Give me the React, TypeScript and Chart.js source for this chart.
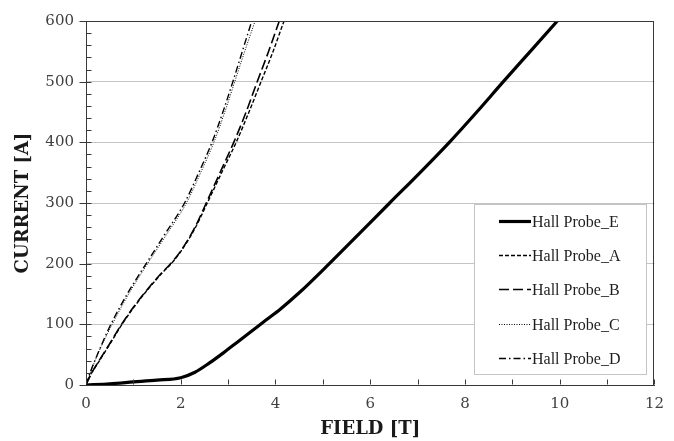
import React, { useEffect, useRef } from 'react';
import { Chart, registerables } from 'chart.js';

Chart.register(...registerables);

// ---- data ----
const seriesLabels = ['Hall Probe_E', 'Hall Probe_A', 'Hall Probe_B', 'Hall Probe_C', 'Hall Probe_D'];

const fieldE = [0, 0.5, 1.0, 1.5, 2.0, 2.3, 2.6, 2.9, 3.2, 3.5, 3.8, 4.1, 4.5, 5.11, 5.8, 6.41, 7.0, 7.67, 8.25, 8.81, 9.38, 9.95];
const currentE = [0, 2, 5, 8, 12, 21, 36, 53, 71, 89, 107, 125, 152, 198, 252, 300, 346, 400, 450, 500, 550, 600];

const fieldA = [0, 0.1, 0.3, 0.5, 0.76, 1.0, 1.3, 1.6, 1.8, 2.0, 2.3, 2.56, 2.9, 3.17, 3.43, 3.68, 3.94, 4.18];
const currentA = [0, 17, 42, 67, 100, 127, 157, 184, 200, 220, 258, 300, 356, 400, 448, 497, 548, 600];

const fieldB = [0, 0.1, 0.3, 0.5, 0.75, 1.0, 1.3, 1.6, 1.8, 2.0, 2.3, 2.55, 2.87, 3.13, 3.38, 3.61, 3.85, 4.08];
const currentB = [0, 17, 43, 68, 100, 128, 158, 185, 201, 221, 260, 302, 357, 402, 450, 499, 549, 600];

const fieldC = [0, 0.1, 0.3, 0.52, 0.9, 1.3, 1.7, 2.12, 2.42, 2.7, 2.93, 3.14, 3.35, 3.57];
const currentC = [0, 22, 60, 95, 150, 200, 248, 300, 350, 400, 450, 500, 550, 600];

const fieldD = [0, 0.1, 0.3, 0.5, 0.87, 1.27, 1.66, 2.08, 2.38, 2.66, 2.89, 3.1, 3.3, 3.5];
const currentD = [0, 23, 61, 96, 150, 200, 248, 300, 350, 400, 450, 500, 550, 600];

const xMin = 0, xMax = 12, xStep = 2, xMinorStep = 1;
const yMin = 0, yMax = 600, yStep = 100, yMinorStep = 20;

const toPoints = (xs: number[], ys: number[]) => xs.map((x, i) => ({ x, y: ys[i] }));

const AXIS_COLOR = '#383838';
const GRID_COLOR = '#c4c4c4';

const frameTicksPlugin = {
  id: 'frameTicks',
  afterDatasetsDraw(chart: any) {
    const { ctx, chartArea } = chart;
    const { left, right, top, bottom } = chartArea;
    const xs = chart.scales.x;
    const ys = chart.scales.y;
    ctx.save();
    ctx.strokeStyle = AXIS_COLOR;
    ctx.lineWidth = 1;
    ctx.setLineDash([]);
    ctx.beginPath();
    const t = Math.round(top) + 0.5;
    const r = Math.round(right) - 0.5;
    ctx.moveTo(Math.round(left), t);
    ctx.lineTo(Math.round(right), t);
    ctx.moveTo(r, Math.round(top));
    ctx.lineTo(r, Math.round(bottom));
    const lx = Math.round(left) + 0.5;
    for (let v = yMin; v <= yMax + 1e-9; v += yMinorStep) {
      const py = Math.round(ys.getPixelForValue(v)) + 0.5;
      ctx.moveTo(lx, py);
      ctx.lineTo(lx + 5, py);
      if (Math.abs(v % yStep) < 1e-9) {
        ctx.moveTo(lx - 7, py);
        ctx.lineTo(lx, py);
      }
    }
    const by = Math.round(bottom) - 0.5;
    for (let v = xMin; v <= xMax + 1e-9; v += xMinorStep) {
      const px = Math.round(xs.getPixelForValue(v)) + 0.5;
      ctx.moveTo(px, by);
      ctx.lineTo(px, by - 5);
    }
    ctx.stroke();
    ctx.restore();
  },
};

const boxLegendPlugin = {
  id: 'boxLegend',
  afterDraw(chart: any) {
    const { ctx, chartArea } = chart;
    const boxW = 172, boxH = 170;
    const bx = Math.round(chartArea.right) - 8 - boxW;
    const by = Math.round(chartArea.bottom) - 11 - boxH;
    ctx.save();
    ctx.fillStyle = '#ffffff';
    ctx.fillRect(bx, by, boxW, boxH);
    ctx.strokeStyle = '#c4c4c4';
    ctx.lineWidth = 1;
    ctx.setLineDash([]);
    ctx.strokeRect(bx + 0.5, by + 0.5, boxW, boxH);
    chart.data.datasets.forEach((ds: any, i: number) => {
      const y = Math.round(by + 17 + i * 34.2) + 0.5;
      ctx.beginPath();
      ctx.setLineDash(ds.borderDash || []);
      ctx.lineWidth = ds.borderWidth;
      ctx.strokeStyle = ds.borderColor;
      ctx.moveTo(bx + 25, y);
      ctx.lineTo(bx + 57, y);
      ctx.stroke();
      ctx.setLineDash([]);
      ctx.fillStyle = '#1e1e1e';
      ctx.font = '16px "Liberation Serif", serif';
      ctx.textBaseline = 'middle';
      ctx.textAlign = 'left';
      ctx.fillText(ds.label, bx + 58, y + 1);
    });
    ctx.restore();
  },
};

export default function App() {
  const canvasRef = useRef<HTMLCanvasElement | null>(null);

  useEffect(() => {
    document.body.style.margin = '0';
    document.body.style.overflow = 'hidden';
    const canvas = canvasRef.current;
    if (!canvas) return;

    const common = {
      borderColor: '#000000',
      backgroundColor: '#000000',
      pointRadius: 0,
      pointHoverRadius: 0,
      showLine: true,
      fill: false,
      cubicInterpolationMode: 'monotone' as const,
    };

    const chart = new Chart(canvas, {
      type: 'scatter',
      data: {
        datasets: [
          { ...common, label: seriesLabels[0], data: toPoints(fieldE, currentE), borderWidth: 3.2, borderDash: [] },
          { ...common, label: seriesLabels[1], data: toPoints(fieldA, currentA), borderWidth: 1.4, borderDash: [4, 2] },
          { ...common, label: seriesLabels[2], data: toPoints(fieldB, currentB), borderWidth: 1.6, borderDash: [10, 4] },
          { ...common, label: seriesLabels[3], data: toPoints(fieldC, currentC), borderWidth: 1, borderDash: [1, 1.5] },
          { ...common, label: seriesLabels[4], data: toPoints(fieldD, currentD), borderWidth: 1.4, borderDash: [7, 3, 1.5, 3] },
        ],
      },
      options: {
        animation: false,
        responsive: true,
        maintainAspectRatio: false,
        layout: { padding: { top: 14, right: 19, left: 0, bottom: 0 } },
        plugins: {
          legend: { display: false },
          tooltip: { enabled: false },
        },
        scales: {
          x: {
            type: 'linear',
            min: xMin,
            max: xMax,
            afterFit: (s: any) => { s.height = 56; },
            ticks: {
              stepSize: xStep,
              padding: 10,
              color: '#404040',
              font: { family: '"DejaVu Serif", serif', size: 15 },
            },
            grid: { display: false, drawTicks: false },
            border: { display: true, color: AXIS_COLOR, width: 1 },
            title: {
              display: true,
              text: 'FIELD [T]',
              color: '#1a1a1a',
              font: { family: '"DejaVu Serif", serif', size: 18, weight: 'bold', lineHeight: 1.2 },
              padding: { top: 0, bottom: 1 },
            },
          },
          y: {
            type: 'linear',
            min: yMin,
            max: yMax,
            afterFit: (s: any) => { s.width = 86; },
            ticks: {
              stepSize: yStep,
              padding: 12,
              color: '#404040',
              font: { family: '"DejaVu Serif", serif', size: 15 },
            },
            grid: {
              drawTicks: false,
              color: (c: any) => (c.tick && (c.tick.value === yMin || c.tick.value === yMax) ? 'rgba(0,0,0,0)' : GRID_COLOR),
              lineWidth: 1,
            },
            border: { display: true, color: AXIS_COLOR, width: 1 },
            title: {
              display: true,
              text: 'CURRENT [A]',
              color: '#1a1a1a',
              font: { family: '"DejaVu Serif", serif', size: 18, weight: 'bold', lineHeight: 1.2 },
              padding: { top: 13, bottom: 0 },
            },
          },
        },
      },
      plugins: [frameTicksPlugin, boxLegendPlugin],
    } as any);

    return () => chart.destroy();
  }, []);

  return (
    <div style={{ position: 'relative', width: 674, height: 441 }}>
      <canvas ref={canvasRef} />
    </div>
  );
}
